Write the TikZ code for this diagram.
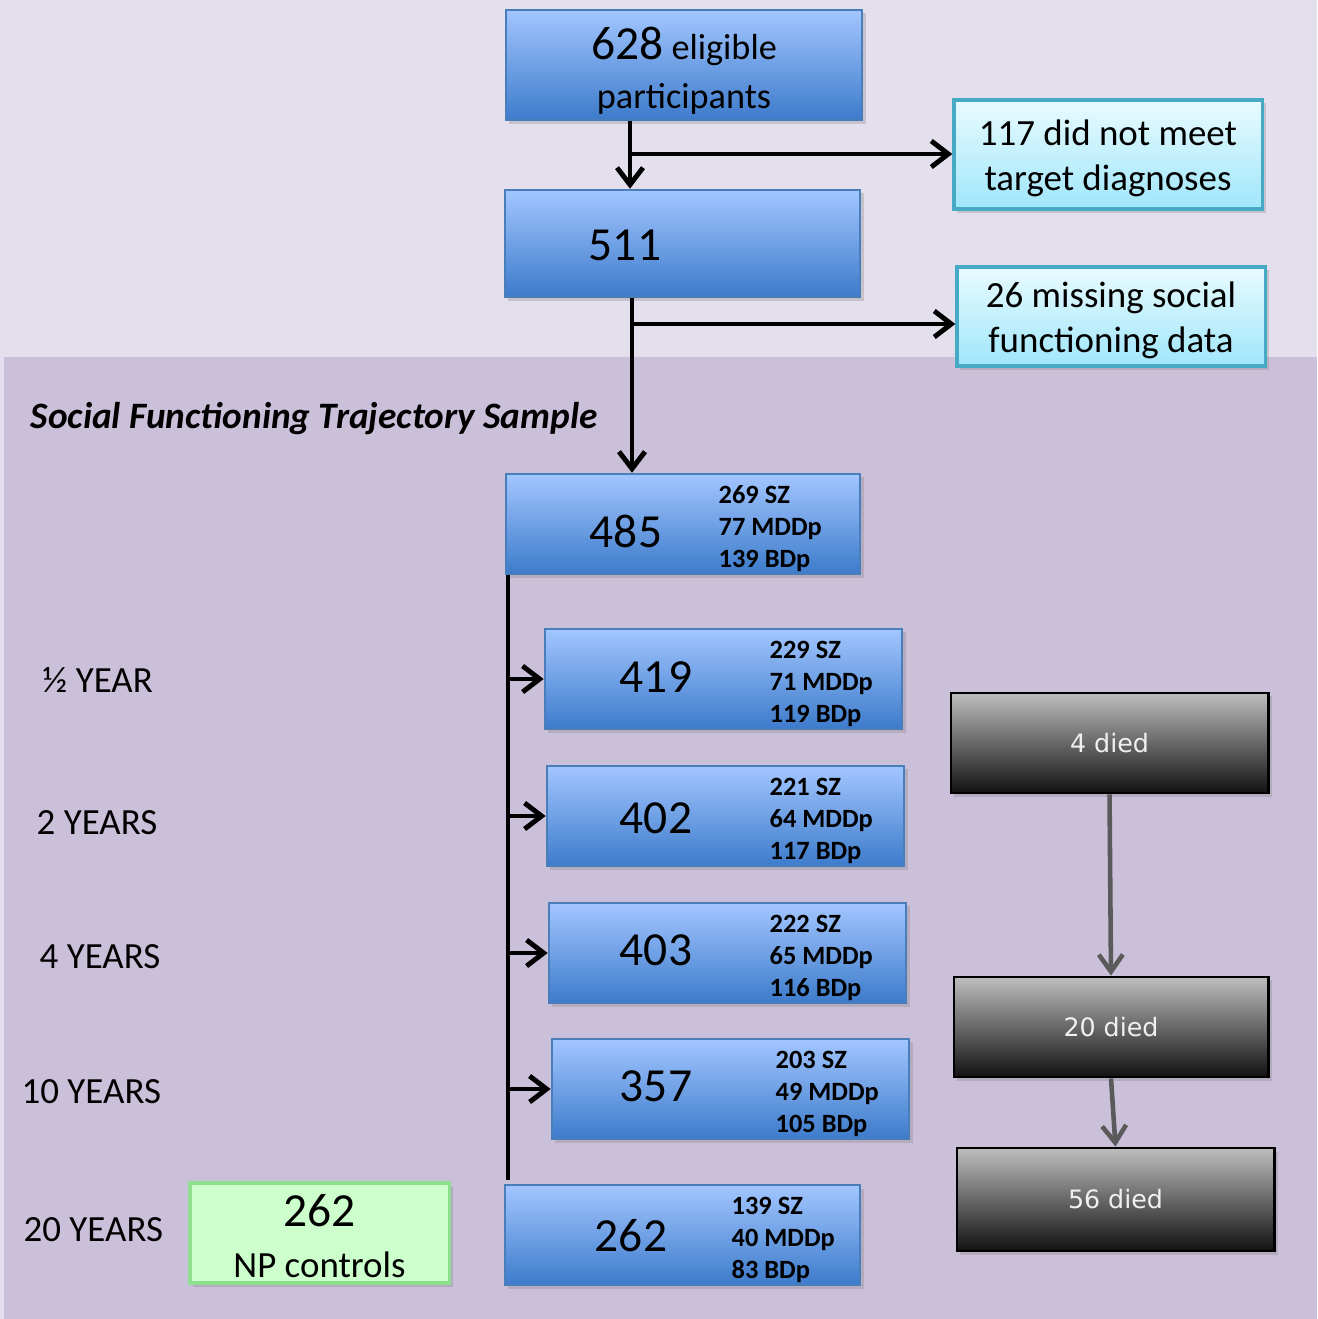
\documentclass[tikz,border=0pt]{standalone}
\usepackage{fontspec}
\setmainfont{Carlito}
\newfontfamily\diedfont{DejaVu Sans}
\usetikzlibrary{arrows.meta,shadows}

\definecolor{bgtop}{HTML}{E4DFEC}
\definecolor{bgbot}{HTML}{CBC0DA}
\definecolor{bluetop}{HTML}{A2C6FF}
\definecolor{bluebot}{HTML}{3D7BCB}
\definecolor{blueline}{HTML}{4A7EBB}
\definecolor{cyantop}{HTML}{E8FBFF}
\definecolor{cyanbot}{HTML}{A0E6FA}
\definecolor{cyanline}{HTML}{46AAC5}
\definecolor{greenfill}{HTML}{CCFFCC}
\definecolor{greenline}{HTML}{8EE08E}
\definecolor{darktop}{HTML}{BEBEBE}
\definecolor{darkbot}{HTML}{111111}
\definecolor{grayarrow}{HTML}{5A5A5A}

\tikzset{
  boxshadow/.style={drop shadow={opacity=0.3, shadow xshift=1pt, shadow yshift=-1pt}},
  bluebox/.style={draw=blueline, line width=0.7pt, top color=bluetop, bottom color=bluebot,
    minimum width=3.56cm, minimum height=1cm, boxshadow},
  cyanbox/.style={draw=cyanline, line width=0.9pt, top color=cyantop, bottom color=cyanbot,
    minimum width=3.08cm, boxshadow},
  boxtxt/.style={align=center, font=\fontsize{10.5}{12.8}\selectfont},
  greenbox/.style={draw=greenline, line width=0.9pt, fill=greenfill, minimum width=2.59cm,
    minimum height=1cm, align=center, font=\fontsize{10.5}{14.5}\selectfont, boxshadow},
  darkbox/.style={draw=black, line width=0.8pt, top color=darktop, bottom color=darkbot,
    minimum width=3.17cm, minimum height=1cm, text=white!94!black,
    font=\diedfont\fontsize{7.2}{9}\selectfont, boxshadow},
  bignum/.style={font=\fontsize{13.5}{16}\selectfont},
  sidetxt/.style={anchor=west, align=left, inner sep=0pt, font=\bfseries\fontsize{7.5}{9.1}\selectfont},
  yearlbl/.style={anchor=west, inner sep=0pt, font=\fontsize{10.5}{12}\selectfont},
  flowline/.style={line width=1.4pt, black},
  arr/.style={flowline, -{Straight Barb[length=1.7mm, width=2.6mm]}},
  grayarr/.style={line width=1.3pt, grayarrow, -{Straight Barb[length=1.7mm, width=2.4mm]}}
}

\begin{document}
\begin{tikzpicture}[x=0.01cm, y=-0.01cm]
    \useasboundingbox (0,0) rectangle (1317,1319);
    % fond
    \fill[bgtop] (0,0) rectangle (1317,1319);
    \fill[bgbot] (4,357) rectangle (1317,1319);

    % haut du diagramme
    \node[bluebox, minimum height=1.1cm] (b628) at (684,65) {};
    \node[align=center, font=\fontsize{10.3}{14}\selectfont] (t628) at (684,71)
        {{\fontsize{13.5}{16}\selectfont 628} eligible\\participants};
    \node[bluebox, minimum width=3.55cm, minimum height=1.07cm] (b511) at (682.5,243.5) {};
    \node[bignum] (t511) at (625,245) {511};
    \node[cyanbox, minimum height=1.09cm] (r117) at (1108,154.5) {};
    \node[boxtxt] (t117) at (1108,158) {117 did not meet\\target diagnoses};
    \node[cyanbox, minimum height=0.99cm] (r26) at (1111,316.5) {};
    \node[boxtxt] (t26) at (1111,320) {26 missing social\\functioning data};

    % echantillon
    \node[anchor=west, inner sep=0pt, font=\bfseries\itshape\fontsize{10.6}{13}\selectfont] (title) at (30,419)
        {Social Functioning Trajectory Sample};

    \foreach \nm/\cx/\cy/\w/\nx/\ny/\sx/\tot/\sz/\mdd/\bd in {
        b485/683/524/3.54/626/531/718/485/269/77/139,
        b419/723.5/679/3.57/656/677/769/419/229/71/119,
        b402/725.5/816/3.57/656/818/769/402/221/64/117,
        b403/727.5/953/3.57/656/950/769/403/222/65/116,
        b357/730.5/1089/3.57/656/1086/775/357/203/49/105,
        b262/682.5/1235/3.55/631/1236/731/262/139/40/83} {
        \node[bluebox, minimum width=\w cm] (\nm) at (\cx,\cy) {};
        \node[bignum] (\nm-n) at (\nx,\ny) {\tot};
        \node[sidetxt] (\nm-s) at (\sx,\cy+5) {\sz\ SZ\\\mdd\ MDDp\\\bd\ BDp};
    }

    % fleches du haut
    \coordinate (j1) at (630,154);
    \coordinate (j2) at (632,324);
    \draw[arr] (b628.south -| j1) -- (b511.north -| j1);
    \draw[arr] (j1) -- (r117.west |- j1);
    \draw[arr] (b511.south -| j2) -- (b485.north -| j2);
    \draw[arr] (j2) -- (r26.west |- j2);

    % tronc vertical et fleches
    \coordinate (trk) at (508,1180);
    \draw[flowline] (b485.south -| trk) -- (trk);
    \foreach \nm in {b419,b402,b403,b357} {
        \draw[arr] (\nm.west -| trk) -- (\nm.west);
    }

    % annees
    \node[yearlbl] (y05) at (42,680) {½ YEAR};
    \node[yearlbl] (y2) at (36,823) {2 YEARS};
    \node[yearlbl] (y4) at (39,957) {4 YEARS};
    \node[yearlbl] (y10) at (21,1092) {10 YEARS};
    \node[yearlbl] (y20) at (23,1230) {20 YEARS};

    \node[greenbox] (np) at (319.5,1233) {};
    \node[align=center, font=\fontsize{10.5}{14.5}\selectfont] (tnp) at (319.5,1236)
        {{\fontsize{13.5}{16}\selectfont 262}\\NP controls};

    % deces
    \node[darkbox] (d4) at (1109.5,743) {4 died};
    \node[darkbox, minimum width=3.14cm] (d20) at (1111,1027) {20 died};
    \node[darkbox, minimum height=1.03cm] (d56) at (1115.5,1199.5) {56 died};
    \draw[grayarr] (d4.south) -- (d20.north);
    \draw[grayarr] (d20.south) -- (d56.north);
\end{tikzpicture}
\end{document}
